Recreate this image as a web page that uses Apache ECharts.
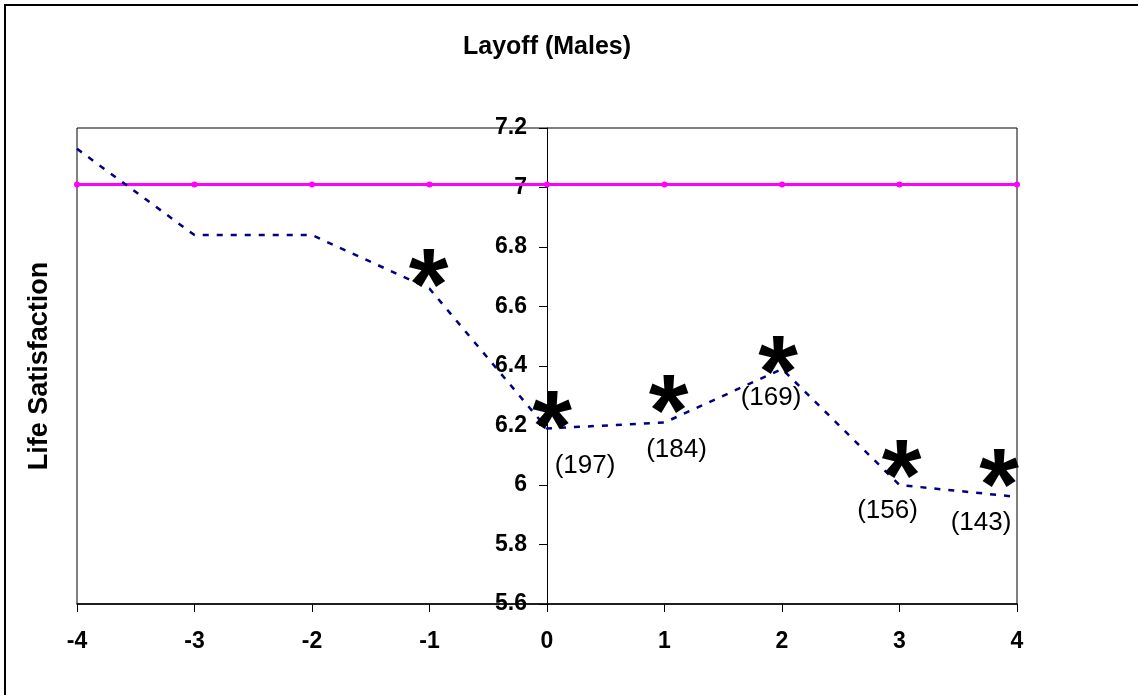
<!DOCTYPE html>
<html>
<head>
<meta charset="utf-8">
<style>
  html, body { margin: 0; padding: 0; background: #fff; }
  #chart { width: 1138px; height: 695px; }
</style>
<script src="https://cdn.jsdelivr.net/npm/echarts@6/dist/echarts.min.js"></script>
</head>
<body>
<div id="chart"></div>
<script>
// ---- data ----
var titleText = 'Layoff (Males)';
var yTitle = 'Life Satisfaction';
var years = [-4, -3, -2, -1, 0, 1, 2, 3, 4];
var layoffValues = [7.13, 6.84, 6.84, 6.66, 6.19, 6.21, 6.39, 6.00, 5.96];
var referenceValues = [7.01, 7.01, 7.01, 7.01, 7.01, 7.01, 7.01, 7.01, 7.01];
var starYears = [-1, 0, 1, 2, 3, 4];
var sampleYears = [0, 1, 2, 3, 4];
var sampleSizes = ['(197)', '(184)', '(169)', '(156)', '(143)'];

// ---- label placement (style only) ----
var starOffsets = [[-1, -21], [5, -19], [4, -29], [-4, -15], [2, -27], [-18, -29]];
var sizeOffsets = [[38, 37], [12, 27], [-11, 29], [-12, 26], [-36, 26]];

var FONT = "'Liberation Sans', Arial, sans-serif";
var STAR_FS = 102;
var STAR_SHIFT = 0.23 * STAR_FS;
var GRID_LEFT = 77, GRID_RIGHT = 121;
var GRID_W = 1138 - GRID_LEFT - GRID_RIGHT;

function valueAt(x) { return layoffValues[years.indexOf(x)]; }

var starData = starYears.map(function (x, i) {
  return {
    value: [x, valueAt(x)],
    label: { offset: [starOffsets[i][0], starOffsets[i][1] + STAR_SHIFT] }
  };
});
var sizeData = sampleYears.map(function (x, i) {
  return {
    value: [x, valueAt(x)],
    name: sampleSizes[i],
    label: { offset: sizeOffsets[i] }
  };
});

var chart = echarts.init(document.getElementById('chart'), null, { renderer: 'canvas' });
chart.setOption({
  backgroundColor: '#ffffff',
  animation: false,
  graphic: [
    {
      type: 'rect',
      shape: { x: 5, y: 5, width: 1200, height: 800 },
      style: { fill: 'none', stroke: '#000', lineWidth: 2 },
      silent: true, z: 0
    },
    {
      type: 'text',
      x: GRID_LEFT + GRID_W / 2, y: 47,
      style: {
        text: titleText,
        fontFamily: FONT, fontWeight: 'bold', fontSize: 25,
        fill: '#000', align: 'center', verticalAlign: 'middle'
      },
      silent: true
    },
    {
      type: 'text',
      x: 40, y: 366,
      rotation: Math.PI / 2,
      style: {
        text: yTitle,
        fontFamily: FONT, fontWeight: 'bold', fontSize: 27,
        fill: '#000', align: 'center', verticalAlign: 'middle'
      },
      silent: true
    }
  ],
  grid: {
    left: GRID_LEFT, right: GRID_RIGHT, top: 128, bottom: 91,
    show: true, borderColor: '#000', borderWidth: 1, backgroundColor: '#fff'
  },
  xAxis: {
    type: 'value', min: -4, max: 4, interval: 1,
    axisLine: { show: true, onZero: false, lineStyle: { color: '#000', width: 1.5 } },
    axisTick: { show: true, inside: false, length: 8, lineStyle: { color: '#000' } },
    splitLine: { show: false },
    axisLabel: { margin: 26, fontFamily: FONT, fontWeight: 'bold', fontSize: 23, color: '#000' }
  },
  yAxis: {
    type: 'value', min: 5.6, max: 7.2, interval: 0.2,
    position: 'left',
    offset: -GRID_W / 2,
    axisLine: { show: true, onZero: false, lineStyle: { color: '#000', width: 1 } },
    axisTick: { show: true, inside: false, length: 8, lineStyle: { color: '#000', width: 1 } },
    splitLine: { show: false },
    axisLabel: { margin: 20, fontFamily: FONT, fontWeight: 'bold', fontSize: 23, color: '#000' }
  },
  series: [
    {
      type: 'line',
      data: years.map(function (x, i) { return [x, referenceValues[i]]; }),
      symbol: 'circle', symbolSize: 6,
      itemStyle: { color: '#ff00ff' },
      lineStyle: { color: '#ff00ff', width: 3 },
      z: 3
    },
    {
      type: 'line',
      data: years.map(function (x, i) { return [x, layoffValues[i]]; }),
      symbol: 'none',
      lineStyle: { color: '#000080', width: 2.5, type: [6, 8] },
      z: 4
    },
    {
      type: 'scatter',
      data: starData,
      symbolSize: 0,
      itemStyle: { color: '#000', opacity: 1 },
      label: {
        show: true, position: 'top', distance: 0, formatter: '*',
        fontFamily: FONT, fontWeight: 'bold', fontSize: STAR_FS, color: '#000',
        opacity: 1, textBorderWidth: 0,
        align: 'center', verticalAlign: 'middle'
      },
      z: 5
    },
    {
      type: 'scatter',
      data: sizeData,
      symbolSize: 0,
      itemStyle: { color: '#000', opacity: 1 },
      label: {
        show: true, position: 'top', distance: 0,
        formatter: function (p) { return p.name; },
        fontFamily: FONT, fontSize: 26, color: '#000',
        opacity: 1, textBorderWidth: 0,
        align: 'center', verticalAlign: 'middle'
      },
      z: 5
    }
  ]
});
</script>
</body>
</html>
